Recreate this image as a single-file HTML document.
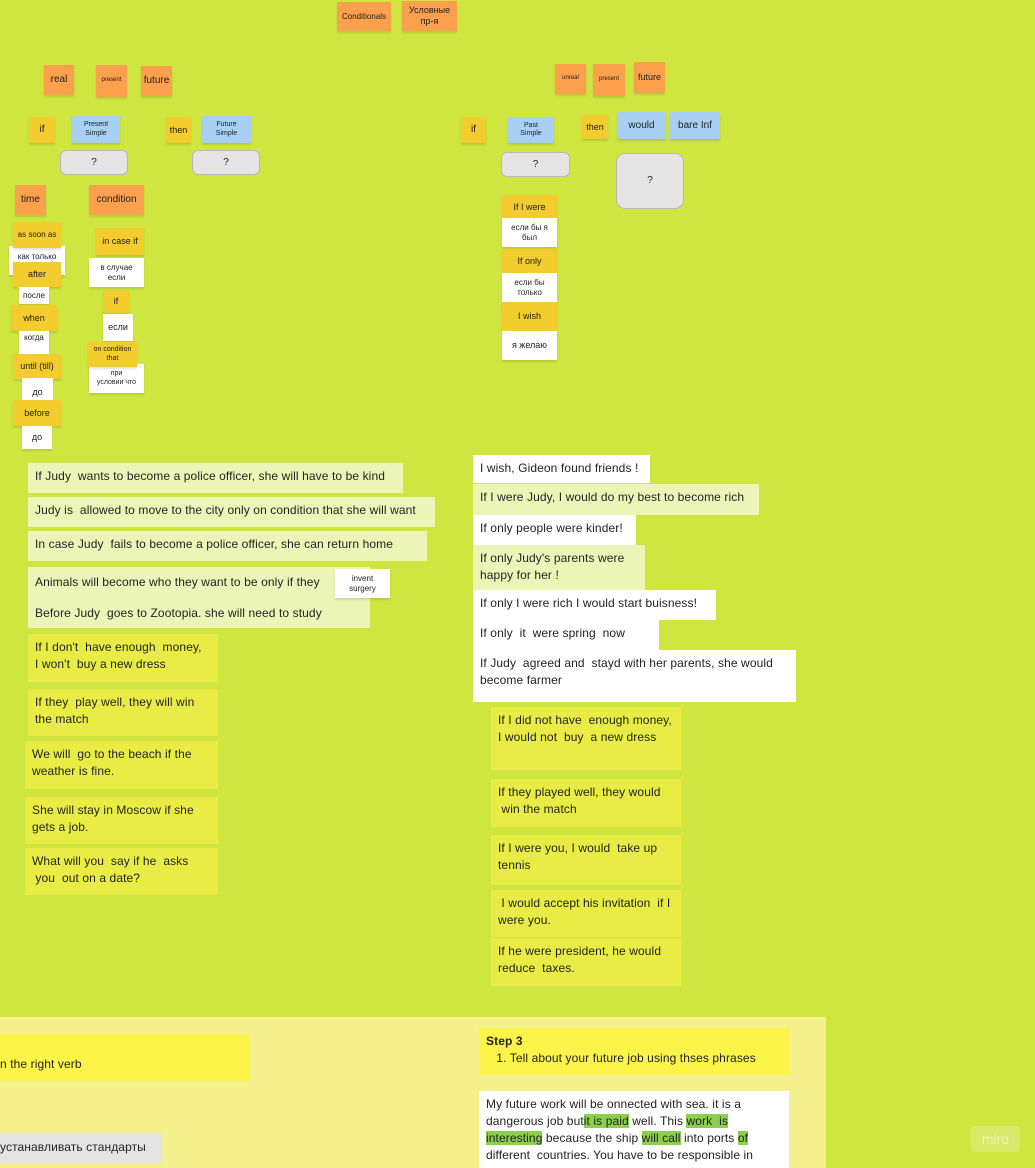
<!DOCTYPE html>
<html><head><meta charset="utf-8"><style>
body{margin:0;width:1035px;height:1168px;background:#d0e640;position:relative;overflow:hidden;font-family:"Liberation Sans","DejaVu Sans",sans-serif;color:#222}
.n{position:absolute;display:flex;align-items:center;justify-content:center;text-align:center;font-size:10px;line-height:1.2;box-sizing:border-box;box-shadow:0 2px 2px rgba(0,0,0,.12)}
.o{background:#fba04d}.y{background:#f3cc2e}.b{background:#a8d0f2}.w{background:#fff}
.g{background:#e4e4e4;border:1px solid #b9b9b9;border-radius:6px;box-shadow:none}
.s{position:absolute;font-size:12px;line-height:17px;padding:5px 7px;box-sizing:border-box;letter-spacing:.1px}
.l{background:#ebf5b7}.yy{background:#e8ec45}.ww{background:#fff}
.hl{background:#8ccf4f}
</style></head><body>
<div class="n o" style="left:337px;top:2px;width:54px;height:29px;font-size:8px">Conditionals</div>
<div class="n o" style="left:402px;top:1px;width:55px;height:30px;font-size:9px">Условные<br>пр-я</div>

<div class="n o" style="left:44px;top:65px;width:30px;height:30px">real</div>
<div class="n o" style="left:96px;top:65px;width:31px;height:32px;font-size:6px">present</div>
<div class="n o" style="left:141px;top:66px;width:31px;height:30px">future</div>
<div class="n y" style="left:29px;top:117px;width:26px;height:26px">if</div>
<div class="n b" style="left:72px;top:116px;width:48px;height:27px;font-size:7px">Present<br>Simple</div>
<div class="n y" style="left:166px;top:117px;width:25px;height:26px;font-size:9px">then</div>
<div class="n b" style="left:202px;top:116px;width:49px;height:27px;font-size:7px">Future<br>Simple</div>
<div class="n g" style="left:60px;top:150px;width:68px;height:25px">?</div>
<div class="n g" style="left:192px;top:150px;width:68px;height:25px">?</div>
<div class="n o" style="left:15px;top:185px;width:31px;height:30px">time</div>
<div class="n o" style="left:89px;top:185px;width:55px;height:30px">condition</div>

<div class="n w" style="left:9px;top:246px;width:56px;height:29px;font-size:8px;align-items:flex-start;padding-top:6px">как только</div>
<div class="n y" style="left:13px;top:222px;width:48px;height:26px;font-size:8px">as soon as</div>
<div class="n y" style="left:13px;top:262px;width:48px;height:25px;font-size:9px">after</div>
<div class="n w" style="left:19px;top:287px;width:30px;height:17px;font-size:8px">после</div>
<div class="n y" style="left:11px;top:305px;width:46px;height:26px;font-size:9px">when</div>
<div class="n w" style="left:19px;top:331px;width:30px;height:26px;font-size:8px;align-items:flex-start;padding-top:2px">когда</div>
<div class="n y" style="left:13px;top:354px;width:48px;height:25px;font-size:9px">until (till)</div>
<div class="n w" style="left:22px;top:378px;width:31px;height:29px;font-size:9px">до</div>
<div class="n y" style="left:13px;top:400px;width:48px;height:26px;font-size:9px">before</div>
<div class="n w" style="left:22px;top:426px;width:30px;height:23px;font-size:9px">до</div>

<div class="n y" style="left:96px;top:228px;width:48px;height:27px;font-size:9px">in case if</div>
<div class="n w" style="left:89px;top:258px;width:55px;height:29px;font-size:8px">в случае<br>если</div>
<div class="n y" style="left:103px;top:290px;width:26px;height:23px;font-size:9px">if</div>
<div class="n w" style="left:103px;top:314px;width:30px;height:27px;font-size:9px">если</div>
<div class="n w" style="left:89px;top:364px;width:55px;height:29px;font-size:7px">при<br>условии что</div>
<div class="n y" style="left:88px;top:342px;width:49px;height:25px;font-size:7px">on condition<br>that</div>

<div class="n o" style="left:555px;top:64px;width:31px;height:30px;font-size:6px">unreal</div>
<div class="n o" style="left:593px;top:64px;width:32px;height:32px;font-size:6px">present</div>
<div class="n o" style="left:634px;top:62px;width:31px;height:31px;font-size:9px">future</div>
<div class="n y" style="left:461px;top:117px;width:25px;height:26px">if</div>
<div class="n b" style="left:508px;top:117px;width:46px;height:26px;font-size:7px">Past<br>Simple</div>
<div class="n y" style="left:582px;top:115px;width:26px;height:24px;font-size:9px">then</div>
<div class="n b" style="left:617px;top:112px;width:49px;height:27px">would</div>
<div class="n b" style="left:670px;top:112px;width:50px;height:27px">bare Inf</div>
<div class="n g" style="left:501px;top:152px;width:69px;height:25px">?</div>
<div class="n g" style="left:616px;top:153px;width:68px;height:56px;border-radius:9px">?</div>
<div class="n y" style="left:502px;top:195px;width:55px;height:24px;font-size:9px">If I were</div>
<div class="n w" style="left:502px;top:218px;width:55px;height:29px;font-size:8px">если бы я<br>был</div>
<div class="n y" style="left:502px;top:249px;width:55px;height:24px;font-size:9px">If only</div>
<div class="n w" style="left:502px;top:273px;width:55px;height:29px;font-size:8px">если бы<br>только</div>
<div class="n y" style="left:502px;top:302px;width:55px;height:29px;font-size:9px">I wish</div>
<div class="n w" style="left:502px;top:331px;width:55px;height:29px;font-size:9px">я желаю</div>

<div class="s l" style="left:28px;top:463px;width:375px;height:30px;white-space:nowrap">If Judy&nbsp; wants to become a police officer, she will have to be kind</div>
<div class="s l" style="left:28px;top:497px;width:407px;height:30px;white-space:nowrap">Judy is&nbsp; allowed to move to the city only on condition that she will want</div>
<div class="s l" style="left:28px;top:531px;width:399px;height:30px;white-space:nowrap">In case Judy&nbsp; fails to become a police officer, she can return home</div>
<div class="s l" style="left:28px;top:567px;width:342px;height:61px;white-space:nowrap;line-height:31px;padding-top:0">Animals will become who they want to be only if they<br>Before Judy&nbsp; goes to Zootopia. she will need to study</div>
<div class="n w" style="left:335px;top:569px;width:55px;height:29px;font-size:8px">invent<br>surgery</div>
<div class="s yy" style="left:28px;top:634px;width:190px;height:48px">If I don't&nbsp; have enough&nbsp; money,<br>I won't&nbsp; buy a new dress</div>
<div class="s yy" style="left:28px;top:689px;width:190px;height:47px">If they&nbsp; play well, they will win the match</div>
<div class="s yy" style="left:25px;top:741px;width:193px;height:48px">We will&nbsp; go to the beach if the weather is fine.</div>
<div class="s yy" style="left:25px;top:797px;width:193px;height:47px">She will stay in Moscow if she gets a job.</div>
<div class="s yy" style="left:25px;top:848px;width:193px;height:47px">What will you&nbsp; say if he&nbsp; asks<br>&nbsp;you&nbsp; out on a date?</div>

<div class="s ww" style="left:473px;top:455px;width:177px;height:28px">I wish, Gideon found friends !</div>
<div class="s l" style="left:473px;top:484px;width:286px;height:31px;white-space:nowrap">If I were Judy, I would do my best to become rich</div>
<div class="s ww" style="left:473px;top:515px;width:163px;height:30px">If only people were kinder!</div>
<div class="s l" style="left:473px;top:545px;width:172px;height:45px">If only Judy's parents were<br>happy for her !</div>
<div class="s ww" style="left:473px;top:590px;width:243px;height:30px;white-space:nowrap">If only I were rich I would start buisness!</div>
<div class="s ww" style="left:473px;top:620px;width:186px;height:30px">If only&nbsp; it&nbsp; were spring&nbsp; now</div>
<div class="s ww" style="left:473px;top:650px;width:323px;height:52px">If Judy&nbsp; agreed and&nbsp; stayd with her parents, she would become farmer</div>
<div class="s yy" style="left:491px;top:707px;width:190px;height:63px">If I did not have&nbsp; enough money, I would not&nbsp; buy&nbsp; a new dress</div>
<div class="s yy" style="left:491px;top:779px;width:190px;height:48px">If they played well, they would<br>&nbsp;win the match</div>
<div class="s yy" style="left:491px;top:835px;width:190px;height:50px">If I were you, I would&nbsp; take up tennis</div>
<div class="s yy" style="left:491px;top:890px;width:190px;height:47px">&nbsp;I would accept his invitation&nbsp; if I were you.</div>
<div class="s yy" style="left:491px;top:938px;width:190px;height:48px">If he were president, he would reduce&nbsp; taxes.</div>

<div style="position:absolute;left:0;top:1017px;width:826px;height:151px;background:#f5f08e"></div>
<div class="s" style="left:0;top:1034px;width:250px;height:47px;background:#fdf44a;padding:22px 0 0 0">n the right verb</div>
<div class="s" style="left:0;top:1133px;width:162px;height:30px;background:#e4e4e4;padding:6px 0 0 0;white-space:nowrap">устанавливать стандарты</div>
<div class="s" style="left:479px;top:1028px;width:310px;height:47px;background:#fdf44a;line-height:17px"><b>Step 3</b><br>&nbsp;&nbsp;&nbsp;1. Tell about your future job using thses phrases</div>
<div class="s" style="left:479px;top:1091px;width:310px;height:77px;background:#fff">My future work will be onnected with sea. it is a dangerous job but<span class="hl">it is paid</span> well. This <span class="hl">work&nbsp; is interesting</span> because the ship <span class="hl">will call</span> into ports <span class="hl">of</span> different&nbsp; countries. You have to be responsible in</div>
<div class="n" style="left:971px;top:1126px;width:49px;height:26px;background:#d9ea6a;color:#eef5b5;font-size:14px;box-shadow:none;border-radius:3px">miro</div>
</body></html>
